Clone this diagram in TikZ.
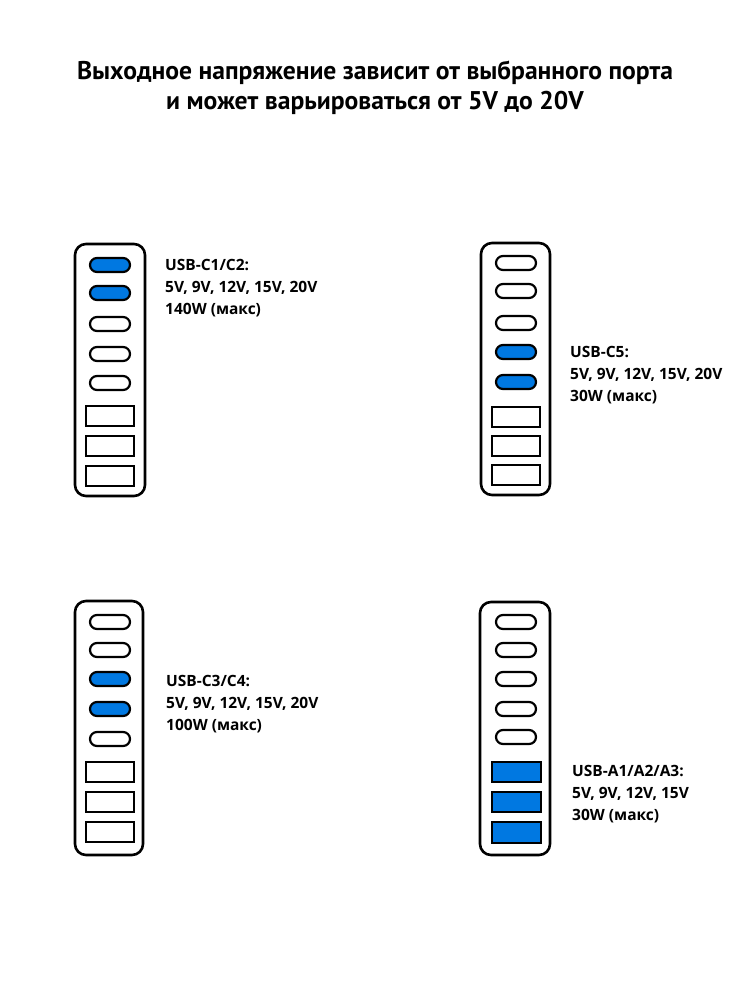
\documentclass[tikz,border=0pt]{standalone}
\usepackage{fontspec}
\setmainfont{Open Sans}
\newfontfamily\titlefont{PT Sans}
\definecolor{portblue}{RGB}{0,120,225}
\tikzset{
  hub/.style={draw=black, line width=2.6pt, rounded corners=11pt, fill=white},
  cport/.style={draw=black, line width=2.2pt, rounded corners=7pt, fill=white},
  cporton/.style={cport, fill=portblue},
  aport/.style={draw=black, line width=2pt, fill=white},
  aporton/.style={aport, fill=portblue},
  lbl/.style={anchor=north west, align=left, inner sep=0pt, font=\bfseries\fontsize{15.5}{22}\selectfont},
  ttl/.style={align=center, inner sep=0pt, font=\titlefont\bfseries\fontsize{25.6}{30}\selectfont}
}
\begin{document}
\begin{tikzpicture}[x=1pt,y=-1pt]
\useasboundingbox (0,0) rectangle (750,1000);
\fill[white] (0,0) rectangle (750,1000);
\node[ttl] (title) at (375,88) {Выходное напряжение зависит от выбранного порта\\и может варьироваться от 5V до 20V};

% ---------- panel 1 (top-left) ----------
\draw[hub] (75,244) rectangle (145,496);
\draw[cporton] (90,258) rectangle (130,272);
\draw[cporton] (90,286) rectangle (130,300);
\draw[cport] (90,317) rectangle (130,331);
\draw[cport] (90,347) rectangle (130,361);
\draw[cport] (90,376) rectangle (130,390);
\draw[aport] (86,406) rectangle (134,426);
\draw[aport] (86,436) rectangle (134,456);
\draw[aport] (86,466) rectangle (134,486);
\node[lbl] (l1) at (165,259) {USB-C1/C2:\\5V, 9V, 12V, 15V, 20V\\140W (макс)};

% ---------- panel 2 (top-right) ----------
\draw[hub] (481,243) rectangle (550,495);
\draw[cport] (496,256) rectangle (536,270);
\draw[cport] (496,284) rectangle (536,298);
\draw[cport] (496,316) rectangle (536,330);
\draw[cporton] (496,345) rectangle (536,359);
\draw[cporton] (496,375) rectangle (536,389);
\draw[aport] (492,407) rectangle (540,427);
\draw[aport] (492,436) rectangle (540,456);
\draw[aport] (492,465) rectangle (540,485);
\node[lbl] (l2) at (570,346) {USB-C5:\\5V, 9V, 12V, 15V, 20V\\30W (макс)};

% ---------- panel 3 (bottom-left) ----------
\draw[hub] (75,601) rectangle (143,855);
\draw[cport] (90,615) rectangle (130,629);
\draw[cport] (90,643) rectangle (130,657);
\draw[cporton] (90,672) rectangle (130,686);
\draw[cporton] (90,702) rectangle (130,716);
\draw[cport] (90,732) rectangle (130,746);
\draw[aport] (86,762) rectangle (134,782);
\draw[aport] (86,792) rectangle (134,812);
\draw[aport] (86,822) rectangle (134,842);
\node[lbl] (l3) at (166,675) {USB-C3/C4:\\5V, 9V, 12V, 15V, 20V\\100W (макс)};

% ---------- panel 4 (bottom-right) ----------
\draw[hub] (480,602) rectangle (550,855);
\draw[cport] (496,615) rectangle (536,629);
\draw[cport] (496,643) rectangle (536,657);
\draw[cport] (496,672) rectangle (536,686);
\draw[cport] (496,702) rectangle (536,716);
\draw[cport] (496,730) rectangle (536,744);
\draw[aporton] (492,762) rectangle (541,782);
\draw[aporton] (492,792) rectangle (541,812);
\draw[aporton] (492,822) rectangle (541,843);
\node[lbl] (l4) at (572,765) {USB-A1/A2/A3:\\5V, 9V, 12V, 15V\\30W (макс)};
\end{tikzpicture}
\end{document}
